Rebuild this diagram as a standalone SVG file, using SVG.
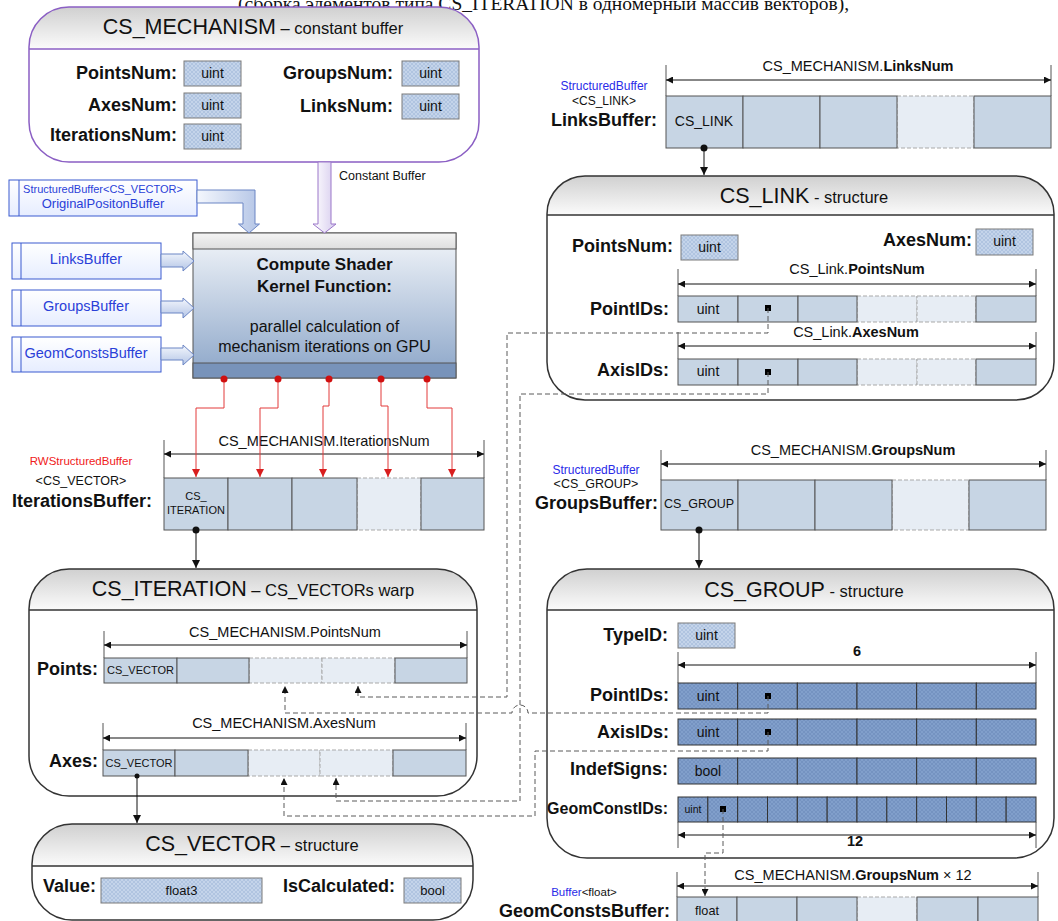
<svg xmlns="http://www.w3.org/2000/svg" width="1058" height="921" viewBox="0 0 1058 921">
<defs>
<style>
text{font-family:"Liberation Sans",Arial,sans-serif;fill:#111}
.b{font-weight:bold}
.hd{font-size:18px;font-weight:bold;text-anchor:end}
.ct{font-size:14px;text-anchor:middle}
.dl{font-size:14.5px;text-anchor:middle}
.cell{fill:#c7d5e4;stroke:#555;stroke-width:1}
.lite{fill:#e7edf4;stroke:#a9a9a9;stroke-width:1;stroke-dasharray:4 2}
.sc{fill:url(#hatch);stroke:#7a7a7a;stroke-width:1}
.dk{fill:url(#hatchD);stroke:#333;stroke-width:1}
.tick{stroke:#555;stroke-width:1}
.dim{stroke:#111;stroke-width:1;marker-start:url(#dimA);marker-end:url(#dimA)}
.box{fill:#fff;stroke:none}
.outl{fill:none;stroke:#333;stroke-width:1.5}
.hdr{fill:url(#hdrG);stroke:none}
.ttl{font-size:21.5px}
.sub{font-size:16.5px}
.dash{fill:none;stroke:#5a5a5a;stroke-width:1;stroke-dasharray:5 3;marker-end:url(#arrD)}
.red{fill:none;stroke:#e23a3a;stroke-width:1;marker-end:url(#arrR)}
.blk{fill:none;stroke:#111;stroke-width:1;marker-end:url(#arrK)}
.inbox{fill:url(#inG);stroke:#3a5bd0;stroke-width:1}
.intxt{fill:#2a3fd8;text-anchor:middle}
.bl{fill:#2a2ae8}
.rd{fill:#f02020}
.serif{font-family:"Liberation Serif","Times New Roman",serif}
</style>
<pattern id="hatch" width="4" height="4" patternUnits="userSpaceOnUse"><rect width="4" height="4" fill="#c4d4ea"/><path d="M0,0 L4,4 M4,0 L0,4" stroke="#a3b9d8" stroke-width="0.6"/></pattern>
<pattern id="hatchD" width="4" height="4" patternUnits="userSpaceOnUse"><rect width="4" height="4" fill="#819fcb"/><path d="M0,0 L4,4 M4,0 L0,4" stroke="#6d8cba" stroke-width="0.6"/></pattern>
<linearGradient id="hdrG" x1="0" y1="0" x2="0" y2="1"><stop offset="0" stop-color="#d0d0d0"/><stop offset="1" stop-color="#fbfbfb"/></linearGradient>
<linearGradient id="csBody" x1="0" y1="0" x2="0" y2="1"><stop offset="0" stop-color="#f3f6fa"/><stop offset="1" stop-color="#8ba5c8"/></linearGradient>
<linearGradient id="csTop" x1="0" y1="0" x2="0" y2="1"><stop offset="0" stop-color="#f4f4f4"/><stop offset="1" stop-color="#dedede"/></linearGradient>
<linearGradient id="inG" x1="0" y1="0" x2="0" y2="1"><stop offset="0" stop-color="#ffffff"/><stop offset="1" stop-color="#e6edff"/></linearGradient>
<linearGradient id="arB" x1="0" y1="0" x2="0" y2="1"><stop offset="0" stop-color="#f4f7fd"/><stop offset="1" stop-color="#b4c5e6"/></linearGradient>
<linearGradient id="arBv" x1="0" y1="0" x2="1" y2="0"><stop offset="0" stop-color="#f4f7fd"/><stop offset="1" stop-color="#b4c5e6"/></linearGradient>
<linearGradient id="arP" x1="0" y1="0" x2="1" y2="0"><stop offset="0" stop-color="#ffffff"/><stop offset="1" stop-color="#d6cbee"/></linearGradient>
<marker id="dimA" viewBox="0 0 10 10" refX="10" refY="5" markerWidth="11" markerHeight="7" markerUnits="userSpaceOnUse" orient="auto-start-reverse"><path d="M0,0 L10,5 L0,10 z" fill="#111"/></marker>
<marker id="arrK" viewBox="0 0 10 10" refX="10" refY="5" markerWidth="10" markerHeight="8" markerUnits="userSpaceOnUse" orient="auto"><path d="M0,0 L10,5 L0,10 z" fill="#111"/></marker>
<marker id="arrD" viewBox="0 0 10 10" refX="10" refY="5" markerWidth="8" markerHeight="7" markerUnits="userSpaceOnUse" orient="auto"><path d="M0,0 L10,5 L0,10 z" fill="#111"/></marker>
<marker id="arrR" viewBox="0 0 10 10" refX="10" refY="5" markerWidth="9" markerHeight="8" markerUnits="userSpaceOnUse" orient="auto"><path d="M0,0 L10,5 L0,10 z" fill="#d81e1e"/></marker>
</defs>
<rect width="1058" height="921" fill="#fff"/>

<text class="serif" x="238" y="10" font-size="19.5">(сборка элементов типа CS_ITERATION в одномерный массив векторов),</text>

<g id="cs-mechanism">
<rect class="box" x="29" y="7" width="450" height="155" rx="40"/>
<path class="hdr" d="M29,49 V47 A40,40 0 0 1 69,7 H439 A40,40 0 0 1 479,47 V49 Z"/>
<line x1="29" y1="49" x2="479" y2="49" stroke="#8b5fc4" stroke-width="1.5"/>
<rect x="29" y="7" width="450" height="155" rx="40" fill="none" stroke="#8b5fc4" stroke-width="1.5"/>
<text x="253" y="34" text-anchor="middle"><tspan class="ttl">CS_MECHANISM</tspan><tspan class="sub"> – constant buffer</tspan></text>
<text class="hd" x="177" y="79">PointsNum:</text>
<rect class="sc" x="184" y="61" width="57" height="25"/><text class="ct" x="212.5" y="78">uint</text>
<text class="hd" x="177" y="111">AxesNum:</text>
<rect class="sc" x="184" y="93" width="57" height="25"/><text class="ct" x="212.5" y="110">uint</text>
<text class="hd" x="177" y="141">IterationsNum:</text>
<rect class="sc" x="184" y="124" width="57" height="25"/><text class="ct" x="212.5" y="141">uint</text>
<text class="hd" x="393" y="79">GroupsNum:</text>
<rect class="sc" x="402" y="61" width="57" height="25"/><text class="ct" x="430.5" y="78">uint</text>
<text class="hd" x="393" y="112">LinksNum:</text>
<rect class="sc" x="402" y="94" width="57" height="25"/><text class="ct" x="430.5" y="111">uint</text>
</g>

<g id="original-position-buffer">
<rect class="inbox" x="9" y="180" width="188" height="36"/>
<line x1="19" y1="180" x2="19" y2="216" stroke="#3a5bd0"/>
<text class="intxt" x="103" y="193" font-size="11">StructuredBuffer&lt;CS_VECTOR&gt;</text>
<text class="intxt" x="103" y="208" font-size="13">OriginalPositonBuffer</text>
</g>
<g id="links-buffer-input">
<rect class="inbox" x="12" y="243" width="149" height="36"/>
<line x1="21" y1="243" x2="21" y2="279" stroke="#3a5bd0"/>
<text class="intxt" x="86" y="264" font-size="14.5">LinksBuffer</text>
</g>
<g id="groups-buffer-input">
<rect class="inbox" x="12" y="290" width="149" height="36"/>
<line x1="21" y1="290" x2="21" y2="326" stroke="#3a5bd0"/>
<text class="intxt" x="86" y="311" font-size="14.5">GroupsBuffer</text>
</g>
<g id="geomconsts-buffer-input">
<rect class="inbox" x="12" y="337" width="149" height="35"/>
<line x1="21" y1="337" x2="21" y2="372" stroke="#3a5bd0"/>
<text class="intxt" x="86" y="358" font-size="14.5">GeomConstsBuffer</text>
</g>

<g id="compute-shader">
<rect x="193" y="233" width="263" height="145" fill="url(#csBody)" stroke="#555"/>
<rect x="193" y="233" width="263" height="16" fill="url(#csTop)" stroke="#555"/>
<rect x="193" y="363" width="263" height="15" fill="#7893ba" stroke="#555"/>
<text x="324.5" y="270" text-anchor="middle" font-size="17" class="b">Compute Shader</text>
<text x="324.5" y="292" text-anchor="middle" font-size="17" class="b">Kernel Function:</text>
<text x="324.5" y="332" text-anchor="middle" font-size="16">parallel calculation of</text>
<text x="324.5" y="352" text-anchor="middle" font-size="16">mechanism iterations on GPU</text>
</g>

<g id="iterations-buffer">
<text class="rd" x="81" y="465" text-anchor="middle" font-size="11.5">RWStructuredBuffer</text>
<text x="81" y="485" text-anchor="middle" font-size="12.5">&lt;CS_VECTOR&gt;</text>
<text class="hd" x="152" y="507">IterationsBuffer:</text>
<rect class="lite" x="357" y="478" width="64" height="52"/>
<rect class="cell" x="164" y="478" width="64" height="52"/>
<rect class="cell" x="228" y="478" width="64" height="52"/>
<rect class="cell" x="292" y="478" width="65" height="52"/>
<rect class="cell" x="421" y="478" width="63" height="52"/>
<text x="196" y="500" font-size="11" text-anchor="middle">CS_</text>
<text x="196" y="514" font-size="11" text-anchor="middle">ITERATION</text>
<line class="tick" x1="164" y1="440" x2="164" y2="478"/>
<line class="tick" x1="484" y1="440" x2="484" y2="478"/>
<line class="dim" x1="164" y1="454" x2="484" y2="454"/>
<text class="dl" x="324" y="446">CS_MECHANISM.IterationsNum</text>
</g>

<g id="cs-iteration">
<rect class="box" x="29" y="569" width="448" height="227" rx="40"/>
<path class="hdr" d="M29,610 V609 A40,40 0 0 1 69,569 H437 A40,40 0 0 1 477,609 V610 Z"/>
<line x1="29" y1="610" x2="477" y2="610" stroke="#333" stroke-width="1.5"/>
<rect class="outl" x="29" y="569" width="448" height="227" rx="40"/>
<text x="253" y="596" text-anchor="middle"><tspan class="ttl">CS_ITERATION</tspan><tspan class="sub"> – CS_VECTORs warp</tspan></text>
<line class="tick" x1="104" y1="631" x2="104" y2="658"/>
<line class="tick" x1="467" y1="631" x2="467" y2="658"/>
<line class="dim" x1="104" y1="645" x2="467" y2="645"/>
<text class="dl" x="285" y="637">CS_MECHANISM.PointsNum</text>
<text class="hd" x="98" y="675">Points:</text>
<rect class="lite" x="249" y="658" width="73" height="25"/>
<rect class="lite" x="322" y="658" width="73" height="25"/>
<rect class="cell" x="104" y="658" width="73" height="25"/>
<rect class="cell" x="177" y="658" width="72" height="25"/>
<rect class="cell" x="395" y="658" width="72" height="25"/>
<text x="140.5" y="674" font-size="11" text-anchor="middle">CS_VECTOR</text>
<line class="tick" x1="103" y1="723" x2="103" y2="750"/>
<line class="tick" x1="466" y1="723" x2="466" y2="750"/>
<line class="dim" x1="103" y1="738" x2="466" y2="738"/>
<text class="dl" x="284" y="728">CS_MECHANISM.AxesNum</text>
<text class="hd" x="98" y="767">Axes:</text>
<rect class="lite" x="248" y="750" width="72" height="26"/>
<rect class="lite" x="320" y="750" width="73" height="26"/>
<rect class="cell" x="103" y="750" width="72" height="26"/>
<rect class="cell" x="175" y="750" width="73" height="26"/>
<rect class="cell" x="393" y="750" width="73" height="26"/>
<text x="139" y="767" font-size="11" text-anchor="middle">CS_VECTOR</text>
</g>

<g id="cs-vector">
<rect class="box" x="32" y="824" width="441" height="96" rx="40"/>
<path class="hdr" d="M32,866 V864 A40,40 0 0 1 72,824 H433 A40,40 0 0 1 473,864 V866 Z"/>
<line x1="32" y1="866" x2="473" y2="866" stroke="#333" stroke-width="1.5"/>
<rect class="outl" x="32" y="824" width="441" height="96" rx="40"/>
<text x="252" y="851" text-anchor="middle"><tspan class="ttl">CS_VECTOR</tspan><tspan class="sub"> – structure</tspan></text>
<text class="hd" x="96" y="892">Value:</text>
<rect class="sc" x="101" y="878" width="161" height="25"/><text x="181.5" y="895" font-size="13" text-anchor="middle">float3</text>
<text class="hd" x="395" y="892">IsCalculated:</text>
<rect class="sc" x="404" y="878" width="57" height="25"/><text x="432.5" y="895" font-size="13" text-anchor="middle">bool</text>
</g>

<g id="links-buffer">
<text x="604" y="90" font-size="12" text-anchor="middle" class="bl">StructuredBuffer</text>
<text x="604" y="105" font-size="12" text-anchor="middle">&lt;CS_LINK&gt;</text>
<text class="hd" x="657" y="126">LinksBuffer:</text>
<rect class="lite" x="897" y="96" width="77" height="52"/>
<rect class="cell" x="666" y="96" width="77" height="52"/>
<rect class="cell" x="743" y="96" width="77" height="52"/>
<rect class="cell" x="820" y="96" width="77" height="52"/>
<rect class="cell" x="974" y="96" width="77" height="52"/>
<text class="ct" x="704" y="126">CS_LINK</text>
<line class="tick" x1="666" y1="65" x2="666" y2="96"/>
<line class="tick" x1="1051" y1="65" x2="1051" y2="96"/>
<line class="dim" x1="666" y1="80" x2="1051" y2="80"/>
<text class="dl" x="858" y="71">CS_MECHANISM.<tspan class="b">LinksNum</tspan></text>
</g>

<g id="cs-link">
<rect class="box" x="547" y="176" width="507" height="224" rx="38"/>
<path class="hdr" d="M547,215 V214 A38,38 0 0 1 585,176 H1016 A38,38 0 0 1 1054,214 V215 Z"/>
<line x1="547" y1="215" x2="1054" y2="215" stroke="#333" stroke-width="1.5"/>
<rect class="outl" x="547" y="176" width="507" height="224" rx="38"/>
<text x="804" y="203" text-anchor="middle"><tspan class="ttl">CS_LINK</tspan><tspan class="sub"> - structure</tspan></text>
<text class="hd" x="673" y="252">PointsNum:</text>
<rect class="sc" x="681" y="235" width="57" height="25"/><text class="ct" x="709.5" y="252">uint</text>
<text class="hd" x="972" y="246">AxesNum:</text>
<rect class="sc" x="976" y="229" width="57" height="26"/><text class="ct" x="1004.5" y="246">uint</text>
<line class="tick" x1="678" y1="269" x2="678" y2="296"/>
<line class="tick" x1="1036" y1="269" x2="1036" y2="296"/>
<line class="dim" x1="678" y1="284" x2="1036" y2="284"/>
<text class="dl" x="857" y="274">CS_Link.<tspan class="b">PointsNum</tspan></text>
<text class="hd" x="669" y="315">PointIDs:</text>
<rect class="lite" x="857" y="296" width="60" height="26"/>
<rect class="lite" x="917" y="296" width="59" height="26"/>
<rect class="cell" x="678" y="296" width="60" height="26"/>
<rect class="cell" x="738" y="296" width="60" height="26"/>
<rect class="cell" x="798" y="296" width="59" height="26"/>
<rect class="cell" x="976" y="296" width="60" height="26"/>
<text class="ct" x="708" y="314">uint</text>
<rect x="765" y="305" width="6" height="6" fill="#000"/>
<line class="tick" x1="678" y1="332" x2="678" y2="359"/>
<line class="tick" x1="1036" y1="332" x2="1036" y2="359"/>
<line class="dim" x1="678" y1="346" x2="1036" y2="346"/>
<text class="dl" x="856" y="337">CS_Link.<tspan class="b">AxesNum</tspan></text>
<text class="hd" x="669" y="376">AxisIDs:</text>
<rect class="lite" x="857" y="359" width="60" height="26"/>
<rect class="lite" x="917" y="359" width="59" height="26"/>
<rect class="cell" x="678" y="359" width="60" height="26"/>
<rect class="cell" x="738" y="359" width="60" height="26"/>
<rect class="cell" x="798" y="359" width="59" height="26"/>
<rect class="cell" x="976" y="359" width="60" height="26"/>
<text class="ct" x="708" y="376">uint</text>
<rect x="765" y="369" width="6" height="6" fill="#000"/>
</g>

<g id="groups-buffer">
<text x="596" y="474" font-size="12" text-anchor="middle" class="bl">StructuredBuffer</text>
<text x="596" y="488" font-size="12.5" text-anchor="middle">&lt;CS_GROUP&gt;</text>
<text class="hd" x="658" y="509">GroupsBuffer:</text>
<rect class="lite" x="892" y="480" width="77" height="50"/>
<rect class="cell" x="661" y="480" width="77" height="50"/>
<rect class="cell" x="738" y="480" width="77" height="50"/>
<rect class="cell" x="815" y="480" width="77" height="50"/>
<rect class="cell" x="969" y="480" width="77" height="50"/>
<text x="699" y="508" font-size="12.5" text-anchor="middle">CS_GROUP</text>
<line class="tick" x1="661" y1="450" x2="661" y2="480"/>
<line class="tick" x1="1046" y1="450" x2="1046" y2="480"/>
<line class="dim" x1="661" y1="464" x2="1046" y2="464"/>
<text class="dl" x="853" y="455">CS_MECHANISM.<tspan class="b">GroupsNum</tspan></text>
</g>

<g id="cs-group">
<rect class="box" x="547" y="569" width="507" height="289" rx="40"/>
<path class="hdr" d="M547,610 V609 A40,40 0 0 1 587,569 H1014 A40,40 0 0 1 1054,609 V610 Z"/>
<line x1="547" y1="610" x2="1054" y2="610" stroke="#333" stroke-width="1.5"/>
<rect class="outl" x="547" y="569" width="507" height="289" rx="40"/>
<text x="804" y="597" text-anchor="middle"><tspan class="ttl">CS_GROUP</tspan><tspan class="sub"> - structure</tspan></text>
<text class="hd" x="668" y="641">TypeID:</text>
<rect class="sc" x="678" y="623" width="57" height="25"/><text class="ct" x="706.5" y="640">uint</text>
<line class="tick" x1="678" y1="652" x2="678" y2="683"/>
<line class="tick" x1="1036" y1="652" x2="1036" y2="683"/>
<line class="dim" x1="678" y1="665" x2="1036" y2="665"/>
<text class="dl b" x="857" y="656">6</text>
<text class="hd" x="669" y="701">PointIDs:</text>
<g class="dk">
<rect x="678" y="683" width="59.67" height="26"/><rect x="737.67" y="683" width="59.67" height="26"/><rect x="797.33" y="683" width="59.67" height="26"/><rect x="857" y="683" width="59.67" height="26"/><rect x="916.67" y="683" width="59.67" height="26"/><rect x="976.33" y="683" width="59.67" height="26"/>
<rect x="678" y="719" width="59.67" height="26"/><rect x="737.67" y="719" width="59.67" height="26"/><rect x="797.33" y="719" width="59.67" height="26"/><rect x="857" y="719" width="59.67" height="26"/><rect x="916.67" y="719" width="59.67" height="26"/><rect x="976.33" y="719" width="59.67" height="26"/>
<rect x="678" y="758" width="59.67" height="26"/><rect x="737.67" y="758" width="59.67" height="26"/><rect x="797.33" y="758" width="59.67" height="26"/><rect x="857" y="758" width="59.67" height="26"/><rect x="916.67" y="758" width="59.67" height="26"/><rect x="976.33" y="758" width="59.67" height="26"/>
<rect x="678" y="797" width="29.83" height="25"/><rect x="707.83" y="797" width="29.83" height="25"/><rect x="737.67" y="797" width="29.83" height="25"/><rect x="767.5" y="797" width="29.83" height="25"/><rect x="797.33" y="797" width="29.83" height="25"/><rect x="827.17" y="797" width="29.83" height="25"/><rect x="857" y="797" width="29.83" height="25"/><rect x="886.83" y="797" width="29.83" height="25"/><rect x="916.67" y="797" width="29.83" height="25"/><rect x="946.5" y="797" width="29.83" height="25"/><rect x="976.33" y="797" width="29.83" height="25"/><rect x="1006.17" y="797" width="29.83" height="25"/>
</g>
<text class="ct" x="708" y="701">uint</text>
<rect x="765" y="693" width="6" height="6" fill="#000"/>
<text class="hd" x="669" y="738">AxisIDs:</text>
<text class="ct" x="708" y="737">uint</text>
<rect x="765" y="729" width="6" height="6" fill="#000"/>
<text class="hd" x="668" y="775">IndefSigns:</text>
<text class="ct" x="708" y="776">bool</text>
<text class="b" x="668" y="814" font-size="16" text-anchor="end">GeomConstIDs:</text>
<text x="693" y="813" font-size="10.5" text-anchor="middle">uint</text>
<rect x="720" y="806" width="6" height="6" fill="#000"/>
<line class="tick" x1="678" y1="822" x2="678" y2="848"/>
<line class="tick" x1="1036" y1="822" x2="1036" y2="848"/>
<line class="dim" x1="678" y1="835" x2="1036" y2="835"/>
<text class="dl b" x="855" y="846">12</text>
</g>

<g id="geomconsts-buffer">
<text x="584" y="896" font-size="11.5" text-anchor="middle"><tspan class="bl">Buffer</tspan>&lt;float&gt;</text>
<text class="hd" x="670" y="917">GeomConstsBuffer:</text>
<line class="tick" x1="677" y1="872" x2="677" y2="897"/>
<line class="tick" x1="1038" y1="872" x2="1038" y2="897"/>
<line class="dim" x1="677" y1="886" x2="1038" y2="886"/>
<text class="dl" x="853" y="880">CS_MECHANISM.<tspan class="b">GroupsNum</tspan> × 12</text>
<rect class="lite" x="857" y="897" width="60" height="40"/>
<rect class="cell" x="677" y="897" width="60" height="40"/>
<rect class="cell" x="737" y="897" width="60" height="40"/>
<rect class="cell" x="797" y="897" width="60" height="40"/>
<rect class="cell" x="917" y="897" width="61" height="40"/>
<rect class="cell" x="978" y="897" width="60" height="40"/>
<text x="707" y="915" font-size="12.7" text-anchor="middle">float</text>
</g>

<g id="connectors">
<path d="M318,162 H331 V224 H336 L324.5,233 L313,224 H318 Z" fill="url(#arP)" stroke="#9b77c9" stroke-width="1"/>
<text x="339" y="180" font-size="12.5">Constant Buffer</text>
<path d="M197,190 H255 V224 H259.5 L249,233 L238.5,224 H243 V203 H197 Z" fill="url(#arBv)" stroke="#6b85c4" stroke-width="1"/>
<path d="M161,254 H183 V251 L194,261 L183,271 V267 H161 Z" fill="url(#arB)" stroke="#6b85c4" stroke-width="1"/>
<path d="M161,301 H183 V298 L194,308 L183,318 V313 H161 Z" fill="url(#arB)" stroke="#6b85c4" stroke-width="1"/>
<path d="M161,348 H183 V345 L194,355 L183,365 V360 H161 Z" fill="url(#arB)" stroke="#6b85c4" stroke-width="1"/>

<path class="red" d="M224,379 V408 H196 V477"/>
<path class="red" d="M278,379 V408 H260 V477"/>
<path class="red" d="M329,379 V406 H323 V477"/>
<path class="red" d="M381,379 V406 H388 V477"/>
<path class="red" d="M427,379 V408 H452 V477"/>
<g fill="#d01010">
<circle cx="224" cy="379" r="3.5"/><circle cx="278" cy="379" r="3.5"/><circle cx="329" cy="379" r="3.5"/><circle cx="381" cy="379" r="3.5"/><circle cx="427" cy="379" r="3.5"/>
</g>

<path class="blk" d="M196,530 V568"/>
<circle cx="196" cy="530" r="3.5" fill="#111"/>
<path class="blk" d="M137,776 V823"/>
<circle cx="137" cy="776" r="2.5" fill="#111"/>
<path class="blk" d="M704,148 V175"/>
<circle cx="704" cy="148" r="3.5" fill="#111"/>
<path class="blk" d="M699,530 V568"/>
<circle cx="699" cy="530" r="3.5" fill="#111"/>

<path class="dash" d="M768,308 V333 H507 V697 H358 V686"/>
<path class="dash" d="M768,372 V394 H520 V801 H336 V778"/>
<path class="dash" d="M768,696 V713 H528 A8,8 0 0 0 512,713 H285 V686"/>
<path class="dash" d="M768,732 V751 H535 V816 H284 V778"/>
<path class="dash" d="M723,809 V853 H705 V896"/>
</g>
</svg>
